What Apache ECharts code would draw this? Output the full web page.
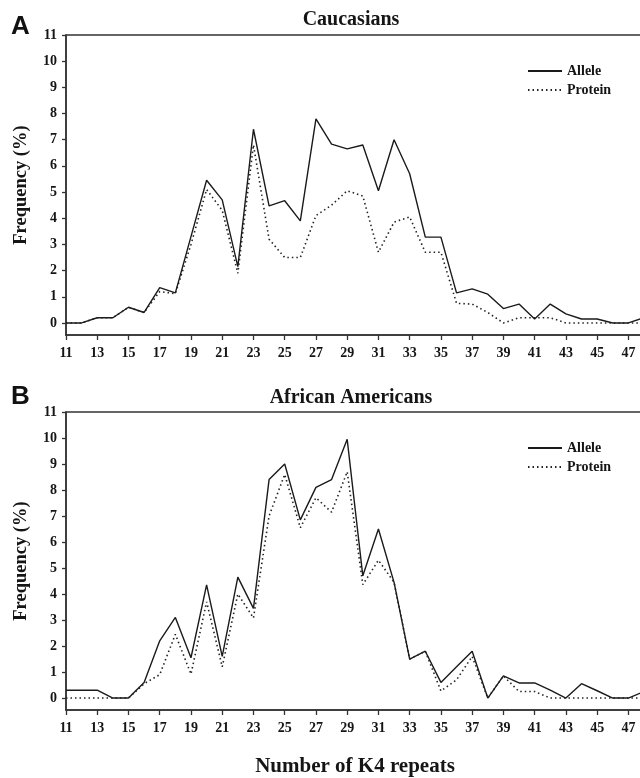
<!DOCTYPE html>
<html>
<head>
<meta charset="utf-8">
<script src="https://cdn.jsdelivr.net/npm/echarts@6/dist/echarts.min.js"></script>
<style>
  html, body { margin: 0; padding: 0; background: #fff; overflow: hidden; }
  #chart { width: 644px; height: 778px; }
</style>
</head>
<body>
<div id="chart"></div>
<script>
// Number of K4 repeats (x categories, numeric)
var repeats = [11,12,13,14,15,16,17,18,19,20,21,22,23,24,25,26,27,28,29,30,31,32,33,34,35,36,37,38,39,40,41,42,43,44,45,46,47,48];

// Panel A: Caucasians
var caucAllele  = [0,0,0.2,0.2,0.6,0.4,1.35,1.15,3.3,5.45,4.7,2.15,7.4,4.47,4.67,3.9,7.8,6.83,6.65,6.8,5.05,7.0,5.7,3.28,3.28,1.15,1.3,1.1,0.55,0.72,0.15,0.72,0.35,0.15,0.15,0,0,0.2];
var caucProtein = [0,0,0.2,0.2,0.6,0.4,1.2,1.12,3.0,5.1,4.3,1.9,6.8,3.2,2.5,2.5,4.1,4.5,5.05,4.85,2.7,3.85,4.05,2.7,2.7,0.75,0.72,0.4,0,0.2,0.2,0.2,0,0,0,0,0,0];

// Panel B: African Americans
var afrAllele  = [0.3,0.3,0.3,0,0,0.6,2.2,3.1,1.55,4.35,1.6,4.65,3.45,8.4,9.0,6.85,8.1,8.4,9.95,4.7,6.5,4.45,1.5,1.8,0.6,1.2,1.8,0,0.85,0.58,0.58,0.3,0,0.55,0.28,0,0,0.25];
var afrProtein = [0,0,0,0,0,0.55,0.9,2.45,0.92,3.7,1.2,4.0,3.08,7.0,8.6,6.55,7.7,7.15,8.7,4.36,5.3,4.45,1.5,1.8,0.27,0.7,1.6,0,0.85,0.25,0.25,0,0,0,0,0,0,0];

// Tick labels
var xTickValues = [11,13,15,17,19,21,23,25,27,29,31,33,35,37,39,41,43,45,47];
var yTickValues = [0,1,2,3,4,5,6,7,8,9,10,11];

var SERIF = '"Liberation Serif", "Times New Roman", serif';
var INK = '#151515';

function pairs(xs, ys) {
  return xs.map(function (x, i) { return [x, ys[i]]; });
}

function xAxisCfg(gi, withName) {
  var a = {
    type: 'value', gridIndex: gi, min: 11, max: 48,
    axisLine: { show: true, onZero: false, lineStyle: { color: '#333', width: 1.5 } },
    axisTick: { show: true, inside: false, length: 5, customValues: xTickValues, lineStyle: { color: '#333', width: 1.3 } },
    axisLabel: { customValues: xTickValues, margin: 11, fontFamily: SERIF, fontWeight: 'bold', fontSize: 14, color: INK },
    splitLine: { show: false }
  };
  if (withName) {
    a.name = 'Number of K4 repeats';
    a.nameLocation = 'middle';
    a.nameGap = 46;
    a.nameTextStyle = { fontFamily: SERIF, fontWeight: 'bold', fontSize: 21, color: INK };
  }
  return a;
}

function yAxisCfg(gi) {
  return {
    type: 'value', gridIndex: gi, min: -0.46, max: 11,
    name: 'Frequency (%)', nameLocation: 'middle', nameGap: 35,
    nameTextStyle: { fontFamily: SERIF, fontWeight: 'bold', fontSize: 18.5, color: INK },
    axisLine: { show: true, onZero: false, lineStyle: { color: '#333', width: 1.5 } },
    axisTick: { show: true, inside: false, length: 4, customValues: yTickValues, lineStyle: { color: '#333', width: 1.3 } },
    axisLabel: { customValues: yTickValues, margin: 9, fontFamily: SERIF, fontWeight: 'bold', fontSize: 14, color: INK },
    splitLine: { show: false }
  };
}

function lineSeries(name, gi, data, dotted) {
  return {
    name: name, type: 'line', xAxisIndex: gi, yAxisIndex: gi,
    data: data, symbol: 'none', showSymbol: false, animation: false,
    lineStyle: dotted ? { color: '#222', width: 1.6, type: [1.5, 3] } : { color: '#1a1a1a', width: 1.4, type: 'solid' },
    itemStyle: { color: '#1a1a1a' }
  };
}

var legendCommon = {
  orient: 'vertical', left: 522, itemWidth: 34, itemHeight: 10, itemGap: 5,
  itemStyle: { opacity: 0, borderWidth: 0 },
  textStyle: { fontFamily: SERIF, fontWeight: 'bold', fontSize: 14, color: INK },
  data: ['Allele', 'Protein'], selectedMode: false
};

var option = {
  backgroundColor: '#fff',
  animation: false,
  grid: [
    { left: 66, right: 0, top: 35, height: 300, show: true, borderColor: '#333', borderWidth: 1.5, backgroundColor: 'transparent' },
    { left: 66, right: 0, top: 412, height: 301, show: true, borderColor: '#333', borderWidth: 1.5, backgroundColor: 'transparent' }
  ],
  xAxis: [xAxisCfg(0, false), xAxisCfg(1, true)],
  yAxis: [yAxisCfg(0), yAxisCfg(1)],
  legend: [
    Object.assign({}, legendCommon, { top: 59 }),
    Object.assign({}, legendCommon, { top: 436 })
  ],
  graphic: [
    { type: 'text', left: 11, top: 14, style: { text: 'A', font: 'bold 26px "Liberation Sans", Arial, sans-serif', fill: '#111' } },
    { type: 'text', left: 11, top: 384, style: { text: 'B', font: 'bold 26px "Liberation Sans", Arial, sans-serif', fill: '#111' } },
    { type: 'text', x: 351, y: 20, style: { text: 'Caucasians', font: 'bold 20px "Liberation Serif", "Times New Roman", serif', fill: INK, align: 'center', verticalAlign: 'middle' } },
    { type: 'text', x: 351, y: 398, style: { text: 'African Americans', font: 'bold 20px "Liberation Serif", "Times New Roman", serif', fill: INK, align: 'center', verticalAlign: 'middle' } }
  ],
  series: [
    lineSeries('Allele', 0, pairs(repeats, caucAllele), false),
    lineSeries('Protein', 0, pairs(repeats, caucProtein), true),
    lineSeries('Allele', 1, pairs(repeats, afrAllele), false),
    lineSeries('Protein', 1, pairs(repeats, afrProtein), true)
  ]
};

var chart = echarts.init(document.getElementById('chart'), null, { renderer: 'canvas' });
chart.setOption(option);
</script>
</body>
</html>
